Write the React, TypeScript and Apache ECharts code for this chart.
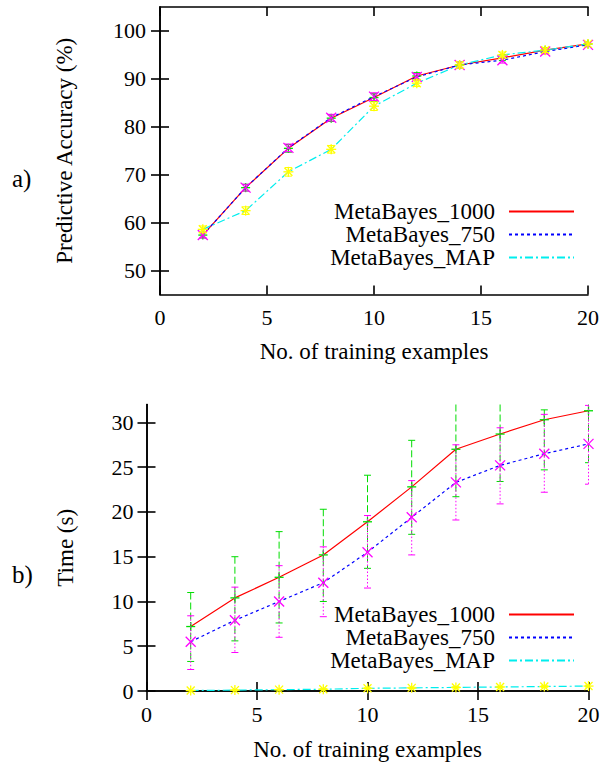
import React, { useEffect, useRef } from "react";
import * as echarts from "echarts";

// ---------- data ----------
const xValues = [2, 4, 6, 8, 10, 12, 14, 16, 18, 20];

// a) Predictive accuracy (%)
const accMB1000 = [57.4, 67.3, 75.5, 81.8, 86.1, 90.6, 92.9, 94.4, 96.0, 97.3];
const accMB750 = [57.4, 67.3, 75.6, 81.9, 86.3, 90.4, 92.9, 93.9, 95.7, 97.1];
const accMAP = [58.6, 62.5, 70.6, 75.3, 84.3, 89.1, 92.9, 95.0, 96.0, 97.3];
const accErr1000 = [0.6, 0.7, 0.8, 0.7, 0.8, 0.7, 0.6, 0.6, 0.5, 0.4];
const accErr750 = [0.6, 0.7, 0.8, 0.7, 0.8, 0.7, 0.6, 0.6, 0.5, 0.4];
const accErrMAP = [0.7, 0.8, 0.9, 0.8, 0.9, 0.7, 0.6, 0.6, 0.5, 0.4];

// b) Time (s)
const timeMB1000 = [7.2, 10.4, 12.7, 15.2, 18.9, 22.8, 27.0, 28.7, 30.3, 31.3];
const timeMB1000Lo = [3.3, 5.6, 7.6, 10.0, 13.7, 17.5, 21.7, 23.4, 24.7, 25.5];
const timeMB1000Hi = [11.0, 15.0, 17.8, 20.3, 24.1, 28.0, 33.5, 34.5, 31.4, 36.0];
const timeMB750 = [5.5, 7.9, 10.0, 12.1, 15.5, 19.4, 23.3, 25.2, 26.5, 27.6];
const timeMB750Lo = [2.4, 4.3, 6.0, 8.3, 11.5, 15.2, 19.1, 20.9, 22.2, 23.1];
const timeMB750Hi = [8.4, 11.6, 14.0, 16.1, 19.6, 23.5, 27.5, 29.4, 30.9, 31.9];
const timeMAP = [0.05, 0.1, 0.15, 0.2, 0.3, 0.35, 0.4, 0.45, 0.5, 0.55];
const timeMAPErr = [0.02, 0.03, 0.04, 0.05, 0.06, 0.07, 0.08, 0.08, 0.09, 0.1];

const seriesNames = ["MetaBayes_1000", "MetaBayes_750", "MetaBayes_MAP"];
const xTicks = [0, 5, 10, 15, 20];
const accTicks = [50, 60, 70, 80, 90, 100];
const timeTicks = [0, 5, 10, 15, 20, 25, 30];

const xLabel = "No. of training examples";
const accLabel = "Predictive Accuracy (%)";
const timeLabel = "Time (s)";

// ---------- styles ----------
const FONT = "'Liberation Serif', serif";
const FS = 22;
const FS_T = 23;
const RED = "#ff0000";
const BLUE = "#0000ff";
const CYAN = "#00eeee";
const GREEN = "#00dd00";
const MAGENTA = "#ff00ff";
const YELLOW = "#ffff00";

const pairs = (ys: number[]) => xValues.map((x, i) => [x, ys[i]]);
const errData = (ys: number[], lo: number[], hi: number[]) =>
  xValues.map((x, i) => [x, ys[i], lo[i], hi[i]]);

type Marker = "plus" | "cross" | "star";

function makeRender(color: string, dash: number[] | null, marker: Marker) {
  return (params: any, api: any) => {
    const x = api.value(0);
    const y = api.value(1);
    const lo = api.value(2);
    const hi = api.value(3);
    const p = api.coord([x, y]);
    const pl = api.coord([x, lo]);
    const ph = api.coord([x, hi]);
    const cs = params.coordSys;
    const top = cs.y;
    const bot = cs.y + cs.height;
    const left = cs.x;
    const right = cs.x + cs.width;
    const children: any[] = [];
    const lineStyle: any = { stroke: color, lineWidth: 1 };
    if (dash) lineStyle.lineDash = dash;
    const y1 = Math.max(ph[1], top);
    const y2 = Math.min(pl[1], bot);
    if (y2 > y1) {
      children.push({
        type: "line",
        shape: { x1: p[0], y1, x2: p[0], y2 },
        style: lineStyle,
      });
    }
    const cw = 3.5;
    const cx1 = Math.max(p[0] - cw, left);
    const cx2 = Math.min(p[0] + cw, right);
    [ph[1], pl[1]].forEach((cy) => {
      if (cy >= top - 0.5 && cy <= bot + 0.5) {
        children.push({
          type: "line",
          shape: { x1: cx1, y1: cy, x2: cx2, y2: cy },
          style: { stroke: color, lineWidth: 1 },
        });
      }
    });
    const ms = { stroke: color, lineWidth: 1.3 };
    if (marker === "plus" || marker === "star") {
      const hp = marker === "plus" ? 4.5 : 5;
      children.push({ type: "line", shape: { x1: p[0] - hp, y1: p[1], x2: p[0] + hp, y2: p[1] }, style: ms });
      children.push({ type: "line", shape: { x1: p[0], y1: p[1] - hp, x2: p[0], y2: p[1] + hp }, style: ms });
    }
    if (marker === "cross" || marker === "star") {
      const hc = marker === "cross" ? 5 : 4;
      children.push({ type: "line", shape: { x1: p[0] - hc, y1: p[1] - hc, x2: p[0] + hc, y2: p[1] + hc }, style: ms });
      children.push({ type: "line", shape: { x1: p[0] - hc, y1: p[1] + hc, x2: p[0] + hc, y2: p[1] - hc }, style: ms });
    }
    return { type: "group", children };
  };
}

const axisLineStyle = { show: true, lineStyle: { color: "#000", width: 1.6 } };
const tickStyle = { show: true, inside: true, length: 9, lineStyle: { color: "#000", width: 1.6 } };
const labelStyle = { color: "#000", fontFamily: FONT, fontSize: FS };
const titleStyle = { color: "#000", fontFamily: FONT, fontSize: FS_T };

function xAxes(grid: number, nameGap: number) {
  return [
    {
      type: "value",
      gridIndex: grid,
      min: 0,
      max: 20,
      interval: 5,
      position: "bottom",
      axisLine: axisLineStyle,
      axisTick: tickStyle,
      splitLine: { show: false },
      axisLabel: { ...labelStyle, margin: 12, customValues: xTicks },
      name: xLabel,
      nameLocation: "middle",
      nameGap,
      nameTextStyle: titleStyle,
    },
    {
      type: "value",
      gridIndex: grid,
      min: 0,
      max: 20,
      interval: 5,
      position: "top",
      axisLine: axisLineStyle,
      axisTick: tickStyle,
      splitLine: { show: false },
      axisLabel: { show: false },
    },
  ];
}

function yAxes(grid: number, min: number, max: number, ticks: number[], name: string, nameGap: number, margin: number) {
  return [
    {
      type: "value",
      gridIndex: grid,
      min,
      max,
      position: "left",
      axisLine: axisLineStyle,
      axisTick: { ...tickStyle, customValues: ticks },
      splitLine: { show: false },
      axisLabel: { ...labelStyle, margin, customValues: ticks },
      name,
      nameLocation: "middle",
      nameGap,
      nameTextStyle: titleStyle,
    },
    {
      type: "value",
      gridIndex: grid,
      min,
      max,
      position: "right",
      axisLine: axisLineStyle,
      axisTick: { ...tickStyle, customValues: ticks },
      splitLine: { show: false },
      axisLabel: { show: false },
    },
  ];
}

function lineSeries(name: string, data: number[][], color: string, type: any, xi: number, yi: number) {
  return {
    type: "line",
    name,
    data,
    xAxisIndex: xi,
    yAxisIndex: yi,
    symbol: "none",
    lineStyle: { color, width: 1.2, type },
    itemStyle: { color },
    z: 2,
  };
}

function errSeries(id: string, data: number[][], color: string, dash: number[] | null, marker: Marker, xi: number, yi: number) {
  return {
    type: "custom",
    name: id,
    data,
    xAxisIndex: xi,
    yAxisIndex: yi,
    clip: false,
    renderItem: makeRender(color, dash, marker),
    z: 3,
  };
}

function legend(top: number) {
  return {
    data: seriesNames,
    orient: "vertical",
    align: "right",
    right: 30,
    top,
    padding: 0,
    itemGap: 0,
    itemWidth: 65,
    itemHeight: 10,
    selectedMode: false,
    itemStyle: { color: "rgba(0,0,0,0)", borderColor: "rgba(0,0,0,0)", borderWidth: 0 },
    textStyle: { ...titleStyle, lineHeight: 23, padding: [0, 9, 0, 0] },
  };
}

export default function App() {
  const ref = useRef<HTMLDivElement>(null);
  useEffect(() => {
    if (!ref.current) return;
    const chart = echarts.init(ref.current, null, { renderer: "svg" });
    const dashMAP = [8, 3, 2, 3];
    const dash750 = [3, 3];
    chart.setOption({
      animation: false,
      backgroundColor: "#fff",
      textStyle: { fontFamily: FONT },
      grid: [
        { left: 160, top: 7, width: 428, height: 287.5 },
        { left: 146.5, top: 404.5, width: 442, height: 286.5 },
      ],
      xAxis: [...xAxes(0, 45), ...xAxes(1, 47)],
      yAxis: [
        ...yAxes(0, 45, 105, accTicks, accLabel, 84, 14),
        ...yAxes(1, 0, 32, timeTicks, timeLabel, 70, 13),
      ],
      legend: [legend(200), legend(603)],
      graphic: [
        { type: "text", left: 12, top: 166, style: { text: "a)", font: `25px ${FONT}`, fill: "#000" } },
        { type: "text", left: 12, top: 562, style: { text: "b)", font: `25px ${FONT}`, fill: "#000" } },
      ],
      series: [
        lineSeries(seriesNames[0], pairs(accMB1000), RED, "solid", 0, 0),
        lineSeries(seriesNames[1], pairs(accMB750), BLUE, dash750, 0, 0),
        lineSeries(seriesNames[2], pairs(accMAP), CYAN, dashMAP, 0, 0),
        errSeries(
          "acc1000",
          errData(accMB1000, accMB1000.map((v, i) => v - accErr1000[i]), accMB1000.map((v, i) => v + accErr1000[i])),
          GREEN, [6, 3], "plus", 0, 0
        ),
        errSeries(
          "acc750",
          errData(accMB750, accMB750.map((v, i) => v - accErr750[i]), accMB750.map((v, i) => v + accErr750[i])),
          MAGENTA, [1.5, 2], "cross", 0, 0
        ),
        errSeries(
          "accMAP",
          errData(accMAP, accMAP.map((v, i) => v - accErrMAP[i]), accMAP.map((v, i) => v + accErrMAP[i])),
          YELLOW, null, "star", 0, 0
        ),
        lineSeries(seriesNames[0], pairs(timeMB1000), RED, "solid", 2, 2),
        lineSeries(seriesNames[1], pairs(timeMB750), BLUE, dash750, 2, 2),
        lineSeries(seriesNames[2], pairs(timeMAP), CYAN, dashMAP, 2, 2),
        errSeries("time1000", errData(timeMB1000, timeMB1000Lo, timeMB1000Hi), GREEN, [7, 3], "plus", 2, 2),
        errSeries("time750", errData(timeMB750, timeMB750Lo, timeMB750Hi), MAGENTA, [1.5, 2], "cross", 2, 2),
        errSeries(
          "timeMAP",
          errData(timeMAP, timeMAP.map((v, i) => v - timeMAPErr[i]), timeMAP.map((v, i) => v + timeMAPErr[i])),
          YELLOW, null, "star", 2, 2
        ),
      ],
    });
    return () => chart.dispose();
  }, []);
  return (
    <div
      ref={ref}
      style={{ position: "absolute", left: 0, top: 0, width: 605, height: 763, background: "#fff" }}
    />
  );
}
